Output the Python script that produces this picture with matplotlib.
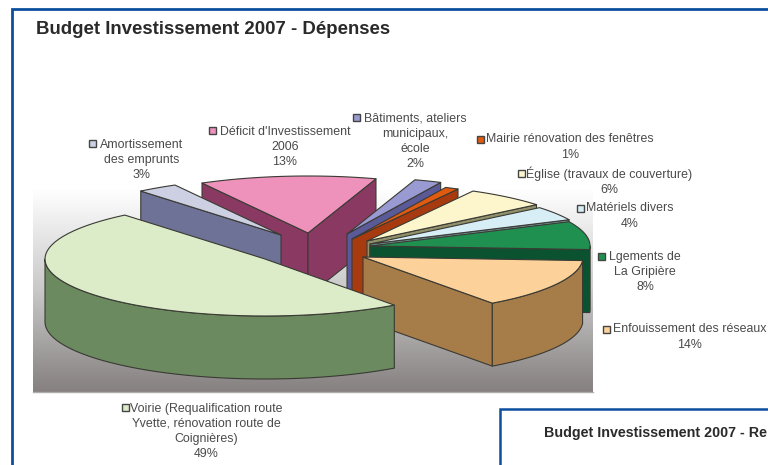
import matplotlib
matplotlib.use("Agg")
import matplotlib.pyplot as plt
import numpy as np
from matplotlib.colors import LinearSegmentedColormap
from matplotlib.patches import Polygon, Rectangle

plt.rcParams["font.family"] = ["Liberation Sans", "DejaVu Sans"]

# data, clockwise from the front edge of "Voirie"
names = ["Voirie", "Amortissement", "Deficit", "Batiments", "Mairie", "Eglise", "Materiels", "Logements", "Enfouissement"]
values = [49, 3, 13, 2, 1, 6, 4, 8, 14]
labels = [
    "Voirie (Requalification route\nYvette, rénovation route de\nCoignières)\n49%",
    "Amortissement\ndes emprunts\n3%",
    "Déficit d'Investissement\n2006\n13%",
    "Bâtiments, ateliers\nmunicipaux,\nécole\n2%",
    "Mairie rénovation des fenêtres\n1%",
    "Église (travaux de couverture)\n6%",
    "Matériels divers\n4%",
    "Lgements de\nLa Gripière\n8%",
    "Enfouissement des réseaux\n14%",
]

# styles and layout (pixels)
top_colors = ["#dcecc8", "#ccd0e2", "#ee92bc", "#9a9ad2", "#e05a10", "#fdf6cc", "#d8eef6", "#1f9050", "#fdd29a"]
side_colors = ["#6b8a60", "#6e7296", "#8a3a62", "#5a5a98", "#a83a10", "#90906a", "#6f9096", "#0b5230", "#a67c48"]
centers = [(265, 259), (281, 235), (308, 233), (347, 234), (352, 239), (367, 241), (370, 244), (370, 246), (363, 257)]
draw_order = [2, 1, 3, 4, 5, 6, 7, 8, 0]
key_pos = [(125, 407), (92, 143), (212, 130), (356, 117), (480, 139), (521, 173), (580, 208), (601, 256), (606, 329)]
label_pos = [(206, 431.5), (142, 160), (285, 147), (415, 141.5), (570, 147), (609, 181), (630, 216), (645, 272), (690, 337)]

RX, RY, DEPTH = 220, 57, 63
START = 54

fig = plt.figure(figsize=(7.68, 4.65), dpi=100, facecolor="white")
ax = fig.add_axes([0, 0, 1, 1])

# plot area gradient
bg_cmap = LinearSegmentedColormap.from_list("bg", ["#ffffff", "#c8c8c8", "#868080"])
grad = np.linspace(0, 1, 256).reshape(-1, 1)
ax.imshow(grad, extent=(33, 593, 392, 190), cmap=bg_cmap, aspect="auto", zorder=0)
ax.plot([33, 593], [392, 392], color="#b0aeac", lw=1, zorder=0.5)

ax.set_xlim(0, 768)
ax.set_ylim(465, 0)
ax.axis("off")

# pie geometry comes from the values
bounds = START + 3.6 * np.cumsum([0] + values)


def rim(center, a, b, n=60):
    t = np.radians(np.linspace(a, b, n))
    return np.column_stack([center[0] + RX * np.cos(t), center[1] + RY * np.sin(t)])


def face(pts, color, z):
    ax.add_patch(Polygon(pts, closed=True, facecolor=color, edgecolor="#3a3a34", lw=0.8, joinstyle="round", zorder=z))


def down(pts):
    return pts + np.array([0, DEPTH])


z = 2
for i in draw_order:
    a, b = bounds[i], bounds[i + 1]
    c = centers[i]
    apex = np.array([c])
    # radial sides that look towards the viewer
    if np.sin(np.radians(a - 90)) > 0:
        edge = np.vstack([apex, rim(c, a, a, 1)])
        face(np.vstack([edge, down(edge)[::-1]]), side_colors[i], z)
    if np.sin(np.radians(b + 90)) > 0:
        edge = np.vstack([apex, rim(c, b, b, 1)])
        face(np.vstack([edge, down(edge)[::-1]]), side_colors[i], z)
    # outer wall, front half only
    for lo, hi in [(a, b), (a + 360, b + 360), (a - 360, b - 360)]:
        lo2, hi2 = max(lo, 0), min(hi, 180)
        if hi2 > lo2:
            arc = rim(c, lo2, hi2)
            face(np.vstack([arc, down(arc)[::-1]]), side_colors[i], z)
    # top
    face(np.vstack([apex, rim(c, a, b)]), top_colors[i], z + 0.5)
    z += 1

# labels with their small keys
for i, txt in enumerate(labels):
    x, y = label_pos[i]
    ax.text(x, y, txt, ha="center", va="center", fontsize=8.95, color="#4a4a4a", linespacing=1.37, zorder=30, clip_on=False)
    kx, ky = key_pos[i]
    ax.add_patch(Rectangle((kx - 3.5, ky - 3.5), 7, 7, facecolor=top_colors[i], edgecolor="#444444", lw=1, zorder=30))

# titles
ax.text(36, 29, "Budget Investissement 2007 - Dépenses", fontsize=13.4, fontweight="bold", color="#2a2a2a", va="center", ha="left")
ax.text(544, 433, "Budget Investissement 2007 - Re", fontsize=10.3, fontweight="bold", color="#2a2a2a", va="center", ha="left", clip_on=True)

# blue frames
blue = "#0b4f9e"
ax.plot([12, 12, 768], [465, 9, 9], color=blue, lw=2, solid_joinstyle="miter", zorder=40)
ax.plot([500, 500, 768], [465, 409, 409], color=blue, lw=1.8, solid_joinstyle="miter", zorder=40)

fig.savefig("out.png", dpi=100)
